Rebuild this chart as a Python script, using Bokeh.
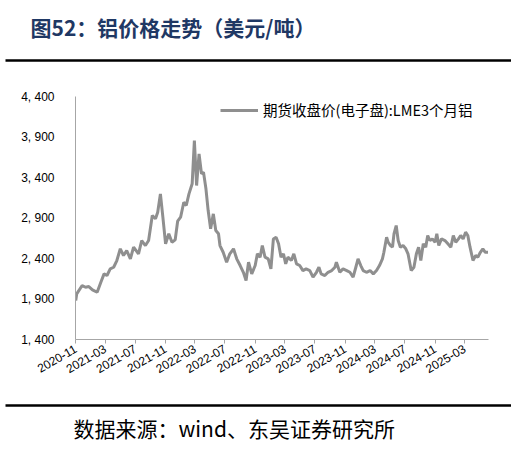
import math
import pandas as pd
from bokeh.plotting import figure
from bokeh.layouts import column
from bokeh.models import FixedTicker, Range1d, Legend, LegendItem
from bokeh.core.properties import value
from bokeh.embed import file_html
from bokeh.resources import INLINE

# ---------------- data ----------------
dates = [
    "2020-11-02", "2020-11-06", "2020-11-28", "2020-12-12", "2020-12-25", "2021-01-09",
    "2021-01-28", "2021-02-12", "2021-02-25", "2021-03-09", "2021-03-22", "2021-04-05",
    "2021-04-18", "2021-05-02", "2021-05-15", "2021-05-28", "2021-06-12", "2021-06-25",
    "2021-07-15", "2021-07-28", "2021-08-12", "2021-08-25", "2021-09-09", "2021-09-22",
    "2021-10-01", "2021-10-12", "2021-10-22", "2021-11-02", "2021-11-15", "2021-11-28",
    "2021-12-11", "2021-12-21", "2022-01-02", "2022-01-15", "2022-01-25", "2022-02-05",
    "2022-02-18", "2022-02-27", "2022-03-08", "2022-03-18", "2022-03-28", "2022-04-05",
    "2022-04-15", "2022-04-24", "2022-05-04", "2022-05-15", "2022-05-25", "2022-06-05",
    "2022-06-11", "2022-06-24", "2022-07-08", "2022-07-21", "2022-08-05", "2022-08-18",
    "2022-09-01", "2022-09-14", "2022-09-25", "2022-10-05", "2022-10-18", "2022-11-01",
    "2022-11-10", "2022-11-21", "2022-11-30", "2022-12-11", "2022-12-24", "2023-01-04",
    "2023-01-14", "2023-01-25", "2023-02-04", "2023-02-14", "2023-02-24", "2023-03-05",
    "2023-03-14", "2023-03-28", "2023-04-07", "2023-04-18", "2023-05-01", "2023-05-14",
    "2023-05-27", "2023-06-11", "2023-06-24", "2023-07-08", "2023-07-18", "2023-07-27",
    "2023-08-11", "2023-08-24", "2023-09-08", "2023-09-21", "2023-09-27", "2023-10-11",
    "2023-10-24", "2023-11-08", "2023-11-21", "2023-12-04", "2023-12-15", "2023-12-24",
    "2024-01-04", "2024-01-14", "2024-01-27", "2024-02-11", "2024-02-24", "2024-03-08",
    "2024-03-20", "2024-04-01", "2024-04-07", "2024-04-18", "2024-04-24", "2024-05-04",
    "2024-05-12", "2024-05-18", "2024-05-27", "2024-06-04", "2024-06-13", "2024-06-24",
    "2024-07-05", "2024-07-14", "2024-07-27", "2024-08-07", "2024-08-17", "2024-08-26",
    "2024-09-04", "2024-09-14", "2024-09-24", "2024-10-02", "2024-10-11", "2024-10-21",
    "2024-11-01", "2024-11-08", "2024-11-16", "2024-11-27", "2024-12-11", "2024-12-23",
    "2025-01-04", "2025-01-14", "2025-01-24", "2025-02-04", "2025-02-13", "2025-02-23",
    "2025-03-05", "2025-03-14", "2025-03-23", "2025-04-04", "2025-04-15", "2025-04-24",
    "2025-05-04", "2025-05-14", "2025-05-24", "2025-06-04",
]
lme_al_3m = [
    1881, 1963, 2066, 2045, 2054, 2013,
    1983, 2107, 2210, 2190, 2272, 2292,
    2375, 2520, 2437, 2498, 2396, 2540,
    2458, 2622, 2560, 2622, 2930, 2890,
    2972, 3198, 2910, 2581, 2705, 2601,
    2630, 2860, 2910, 3095, 3054, 3198,
    3322, 3857, 3301, 3692, 3445, 3466,
    3260, 2992, 2767, 2951, 2745, 2705,
    2560, 2477, 2354, 2458, 2520, 2396,
    2313, 2230, 2128, 2354, 2210, 2313,
    2458, 2416, 2560, 2416, 2396, 2272,
    2642, 2663, 2581, 2416, 2458, 2334,
    2416, 2375, 2458, 2334, 2313, 2251,
    2272, 2251, 2169, 2230, 2292, 2210,
    2190, 2230, 2251, 2292, 2354, 2230,
    2272, 2251, 2230, 2169, 2292, 2396,
    2313, 2251, 2230, 2251, 2210, 2251,
    2313, 2396, 2477, 2663, 2601, 2560,
    2540, 2705, 2807, 2622, 2540, 2560,
    2520, 2458, 2251, 2292, 2458, 2540,
    2375, 2581, 2540, 2684, 2622, 2642,
    2601, 2705, 2560, 2642, 2622, 2581,
    2540, 2684, 2601, 2642, 2684, 2642,
    2725, 2684, 2540, 2375, 2437, 2416,
    2477, 2520, 2477, 2477,
]
x_tick_labels = ["2020-11", "2021-03", "2021-07", "2021-11", "2022-03", "2022-07", "2022-11",
                 "2023-03", "2023-07", "2023-11", "2024-03", "2024-07", "2024-11", "2025-03"]
y_ticks = [1400, 1900, 2400, 2900, 3400, 3900, 4400]
y_tick_labels = ["1, 400", "1, 900", "2, 400", "2, 900", "3, 400", "3, 900", "4, 400"]
x_start, x_end = "2020-11-01", "2025-06-06"
title_text = "图52：铝价格走势（美元/吨）"
source_text = "数据来源：wind、东吴证券研究所"
series_name = "期货收盘价(电子盘):LME3个月铝"

W = 511
CJK = "Noto Sans CJK SC"


def blank(height, y_top):
    """A figure whose frame is the whole figure, with y in page pixels (downwards)."""
    f = figure(width=W, height=height, output_backend="svg", toolbar_location=None,
               x_range=Range1d(0, W), y_range=Range1d(y_top + height, y_top),
               x_axis_location=None, y_axis_location=None, frame_align=False,
               min_border_left=0, min_border_right=0, min_border_top=0, min_border_bottom=0)
    f.outline_line_color = None
    f.grid.visible = False
    return f


# ---------------- header ----------------
HH = 88
head = blank(HH, 0)
head.text(x=[30], y=[26], text=[title_text], text_font=value(CJK), text_font_style="bold",
          text_font_size="21px", text_color="#1f3864", text_baseline="middle", text_align="left")
head.segment(x0=[5], y0=[60], x1=[W], y1=[60], line_color="#000000", line_width=2.6)

# ---------------- main chart ----------------
MH = 302
xs = pd.to_datetime(dates)
p = figure(width=W, height=MH, output_backend="svg", toolbar_location=None,
           x_axis_type="datetime", frame_align=False,
           x_range=Range1d(pd.Timestamp(x_start), pd.Timestamp(x_end)),
           y_range=Range1d(1400, 4400),
           min_border_left=75, min_border_right=W - 488, min_border_top=8, min_border_bottom=51)
p.outline_line_color = None
p.grid.visible = False

line = p.line(xs, lme_al_3m, line_color="#8f8f8f", line_width=3)

ya = p.yaxis[0]
ya.ticker = FixedTicker(ticks=y_ticks)
ya.major_label_overrides = {t: l for t, l in zip(y_ticks, y_tick_labels)}
ya.major_tick_line_color = None
ya.minor_tick_line_color = None
ya.axis_line_color = "#a6a6a6"
ya.major_label_text_font = "Liberation Sans"
ya.major_label_text_font_size = "12px"
ya.major_label_text_color = "#000000"
ya.major_label_standoff = 15

tick_ms = [pd.Timestamp(t + "-01").value / 1e6 for t in x_tick_labels]
xa = p.xaxis[0]
xa.ticker = FixedTicker(ticks=tick_ms)
xa.major_label_overrides = {t: l for t, l in zip(tick_ms, x_tick_labels)}
xa.major_tick_in = 0
xa.major_tick_out = 4
xa.major_tick_line_color = "#a6a6a6"
xa.minor_tick_line_color = None
xa.axis_line_color = "#a6a6a6"
xa.major_label_orientation = math.pi / 6
xa.major_label_text_font = "Liberation Sans"
xa.major_label_text_font_size = "12px"
xa.major_label_text_color = "#000000"
xa.major_label_standoff = 4

legend = Legend(items=[LegendItem(label=series_name, renderers=[line])],
                location=(145, 219), orientation="vertical",
                border_line_color=None, background_fill_alpha=0,
                padding=0, margin=0, glyph_width=38, glyph_height=20,
                label_standoff=5, label_text_font=CJK,
                label_text_font_size="14.5px", label_text_color="#000000")
p.add_layout(legend, "center")

# ---------------- footer ----------------
FH = 51
foot = blank(FH, HH + MH)
foot.segment(x0=[5], y0=[405], x1=[W], y1=[405], line_color="#000000", line_width=2.6)
foot.text(x=[73], y=[427], text=[source_text], text_font=value(CJK),
          text_font_size="21px", text_color="#000000", text_baseline="middle", text_align="left")

layout = column(head, p, foot, spacing=0)
open("out.html", "w").write(file_html(layout, INLINE))
